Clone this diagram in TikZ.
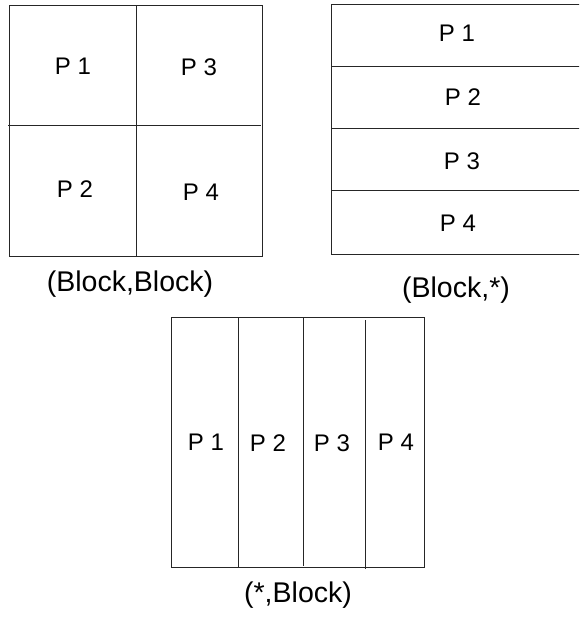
\documentclass[tikz,border=0pt]{standalone}
\usepackage{fontspec}
\setmainfont{Liberation Sans}
\tikzset{
  part/.style={font=\fontsize{24}{28}\selectfont, inner sep=0pt},
  caption/.style={font=\fontsize{28.5}{33}\selectfont, inner sep=0pt},
  grid line/.style={line width=1pt, draw=black!85}
}
\begin{document}
\begin{tikzpicture}[x=1pt, y=-1pt]
    \useasboundingbox (0,0) rectangle (579,617);
    \clip (0,0) rectangle (579,617);
    % (Block,Block)
    \draw [grid line] (9.3,5.3) rectangle (262.3,256);
    \draw [grid line] (136.7,5.3) -- (136.7,256);
    \draw [grid line] (8,125.3) -- (261,125.3);
    \node [part] (bbA) at (73,66) {P 1};
    \node [part] (bbB) at (75,189) {P 2};
    \node [part] (bbC) at (199,67) {P 3};
    \node [part] (bbD) at (201,192) {P 4};
    \node [caption] (capBB) at (130,284) {(Block,Block)};
    % (Block,*)
    \draw [grid line] (331,4.5) rectangle (590,254);
    \foreach \y in {66.7,128.5,190.7}
        \draw [grid line] (331,\y) -- (590,\y);
    \node [part] (brA) at (457,33) {P 1};
    \node [part] (brB) at (463,97) {P 2};
    \node [part] (brC) at (462,161) {P 3};
    \node [part] (brD) at (458,223) {P 4};
    \node [caption] (capBR) at (456,290) {(Block,*)};
    % (*,Block)
    \draw [grid line] (171.7,317.5) rectangle (424.5,567);
    \draw [grid line] (238.5,318) -- (238.5,568);
    \draw [grid line] (303.3,318) -- (303.3,566);
    \draw [grid line] (365.5,320) -- (365.5,569);
    \node [part] (bcA) at (206,442) {P 1};
    \node [part] (bcB) at (268,443) {P 2};
    \node [part] (bcC) at (332,443) {P 3};
    \node [part] (bcD) at (396,442) {P 4};
    \node [caption] (capBC) at (298,595) {(*,Block)};
\end{tikzpicture}
\end{document}
